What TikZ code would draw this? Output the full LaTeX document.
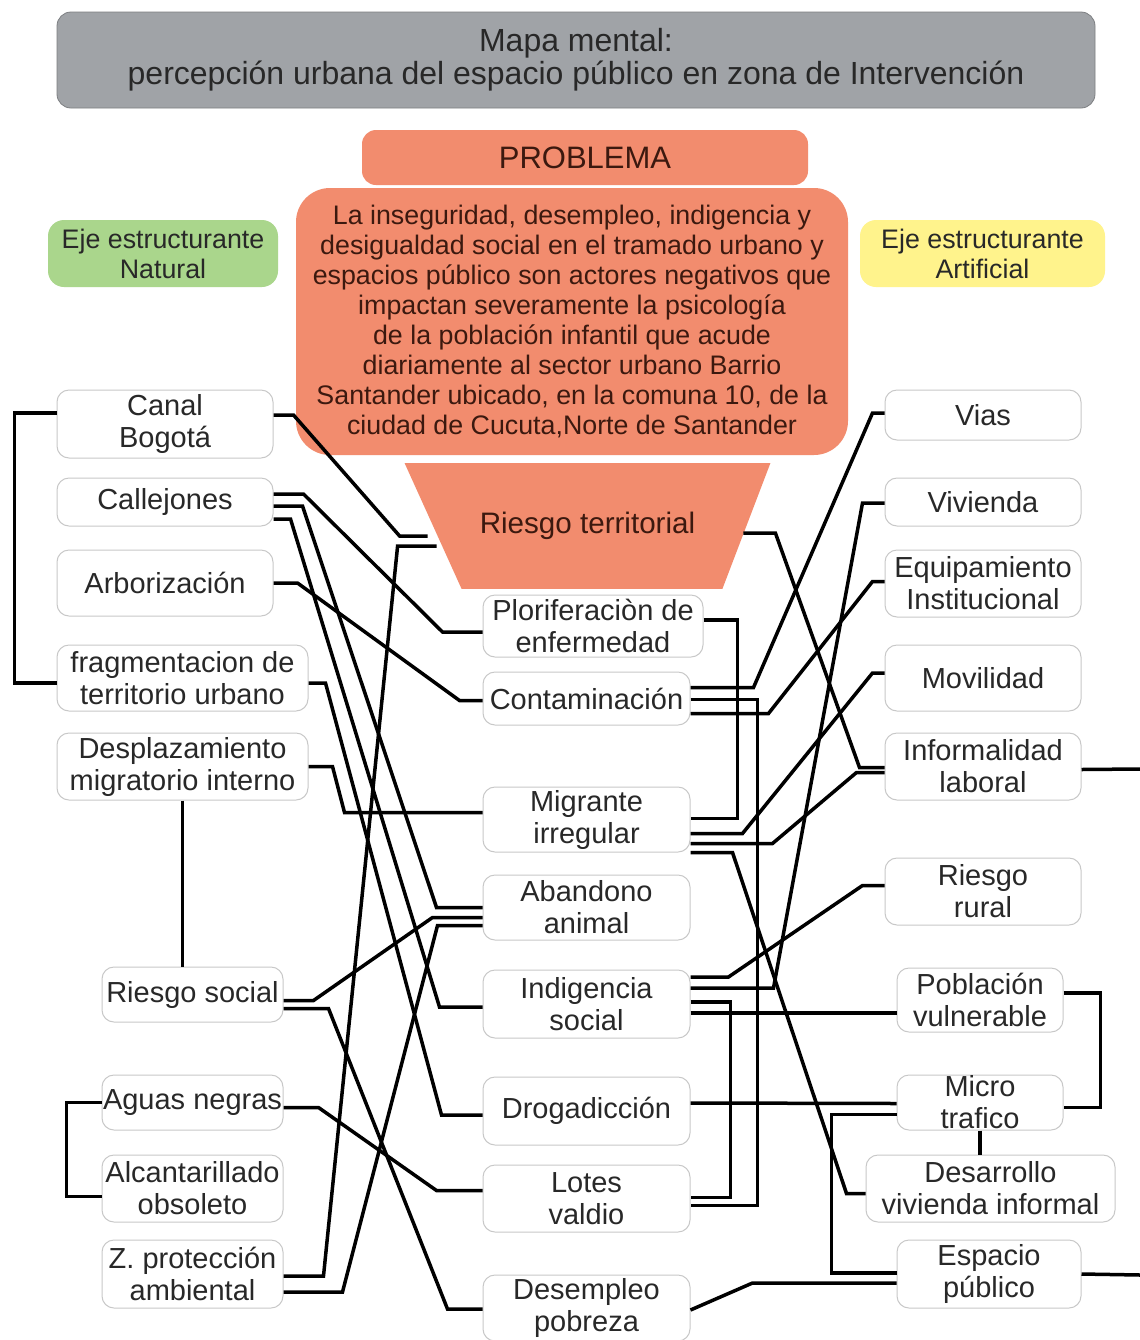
\documentclass[tikz,border=0pt]{standalone}
\usepackage{fontspec}
\setmainfont{Liberation Sans}
\usetikzlibrary{calc,backgrounds}
\definecolor{salmon}{RGB}{242,140,110}
\definecolor{titlegray}{RGB}{160,163,167}
\definecolor{titleline}{RGB}{125,127,130}
\definecolor{natgreen}{RGB}{170,214,140}
\definecolor{artyellow}{RGB}{255,243,140}
\definecolor{boxline}{RGB}{200,200,200}
\definecolor{ink}{RGB}{40,40,40}
\definecolor{probink}{RGB}{60,25,15}
\tikzstyle{item} = [draw=boxline, line width=0.5pt, rounded corners=6pt, fill=white, text=ink,
    align=center, inner sep=0pt, font=\fontsize{14.5}{16}\selectfont]
\tikzstyle{link} = [line width=1.75pt, black]

\begin{document}
\begin{tikzpicture}[x=0.5pt,y=-0.5pt]

\tikzstyle{eje} = [rounded corners=8pt, text=ink, align=center, minimum height=33.5pt, font=\fontsize{13.4}{15}\selectfont]

\useasboundingbox (0,0) rectangle (1140,1340);

\node[draw=titleline, fill=titlegray, rounded corners=7pt, minimum width=519pt, minimum height=48pt,
    align=center, text=ink, font=\fontsize{16}{16.5}\selectfont] (title) at (576,60)
    {Mapa mental:\\percepción urbana del espacio público en zona de Intervención};

\node[fill=salmon, rounded corners=7pt, minimum width=223pt, minimum height=27.5pt, text=probink,
    font=\fontsize{15.5}{17}\selectfont] (problema) at (585,157.5) {PROBLEMA};
\node[fill=salmon, rounded corners=17pt, minimum width=276pt, minimum height=133.5pt, align=center,
    text=probink, font=\fontsize{13.4}{15}\selectfont] (texto) at (572,321.5)
    {La inseguridad, desempleo, indigencia y\\desigualdad social en el tramado urbano y\\espacios público son actores negativos que\\impactan severamente la psicología\\de la población infantil que acude\\diariamente al sector urbano Barrio\\Santander ubicado, en la comuna 10, de la\\ciudad de Cucuta,Norte de Santander};

\node[eje, fill=natgreen, minimum width=115pt] (natural) at (163,253.5) {Eje estructurante\\Natural};
\node[eje, fill=artyellow, minimum width=122.5pt] (artificial) at (982.5,253.5) {Eje estructurante\\Artificial};

\node[minimum width=182.5pt, minimum height=62.5pt, inner sep=0pt, text=probink,
    font=\fontsize{14.8}{16}\selectfont] (rterr) at (587.5,526) {Riesgo territorial};
\begin{pgfonlayer}{background}
\fill[white] (0,0) rectangle (1140,1340);
\fill[salmon] (rterr.north west) -- (rterr.north east) -- ($(rterr.south east)+(-48,0)$)
    -- ($(rterr.south west)+(57,0)$) -- cycle;
\end{pgfonlayer}

% eje natural
\node[item, minimum width=108pt, minimum height=34pt] (canal) at (165,424) {Canal\\Bogotá};
\node[item, minimum width=108pt, minimum height=24pt] (callej) at (165,502) {Callejones};
\node[item, minimum width=108pt, minimum height=33pt] (arbor) at (165,583) {Arborización};
\node[item, minimum width=125.5pt, minimum height=33pt] (fragm) at (182.5,678) {fragmentacion de\\territorio urbano};
\node[item, minimum width=125.5pt, minimum height=33.5pt] (despl) at (182.5,766.5) {Desplazamiento\\migratorio interno};
\node[item, minimum width=90.5pt, minimum height=27.5pt] (rsocial) at (192.5,994.5) {Riesgo social};
\node[item, minimum width=90.5pt, minimum height=27.5pt] (aguas) at (192.5,1102.5) {Aguas negras};
\node[item, minimum width=90.5pt, minimum height=33.5pt] (alcant) at (192.5,1188.5) {Alcantarillado\\obsoleto};
\node[item, minimum width=90.5pt, minimum height=34pt] (zprot) at (192.5,1274) {Z. protección\\ambiental};

% centro
\node[item, minimum width=110pt, minimum height=31pt] (plorif) at (593,626) {Ploriferaciòn de\\enfermedad};
\node[item, minimum width=103.5pt, minimum height=26.5pt] (contam) at (586.5,698.5) {Contaminación};
\node[item, minimum width=103.5pt, minimum height=32.5pt] (migr) at (586.5,819.5) {Migrante\\irregular};
\node[item, minimum width=103.5pt, minimum height=32.5pt] (aband) at (586.5,907.5) {Abandono\\animal};
\node[item, minimum width=103.5pt, minimum height=34pt] (indig) at (586.5,1004) {Indigencia\\social};
\node[item, minimum width=103.5pt, minimum height=34pt] (droga) at (586.5,1111) {Drogadicción};
\node[item, minimum width=103.5pt, minimum height=33.5pt] (lotes) at (586.5,1198.5) {Lotes\\valdio};
\node[item, minimum width=103.5pt, minimum height=33pt] (desemp) at (586.5,1308) {Desempleo\\pobreza};

% eje artificial
\node[item, minimum width=98pt, minimum height=25pt] (vias) at (983,415) {Vias};
\node[item, minimum width=98pt, minimum height=24pt] (vivienda) at (983,502) {Vivienda};
\node[item, minimum width=98pt, minimum height=33.5pt] (equip) at (983,583.5) {Equipamiento\\Institucional};
\node[item, minimum width=98pt, minimum height=33pt] (movil) at (983,678) {Movilidad};
\node[item, minimum width=98pt, minimum height=33.5pt] (inform) at (983,766.5) {Informalidad\\laboral};
\node[item, minimum width=98pt, minimum height=33.5pt] (rrural) at (983,891.5) {Riesgo\\rural};
\node[item, minimum width=83pt, minimum height=32pt] (poblac) at (980,1000) {Población\\vulnerable};
\node[item, minimum width=83pt, minimum height=27.5pt] (micro) at (980,1102.5) {Micro\\trafico};
\node[item, minimum width=124.5pt, minimum height=33.5pt] (desarr) at (990.5,1188.5) {Desarrollo\\vivienda informal};
\node[item, minimum width=92pt, minimum height=34pt] (espacio) at (989,1274) {Espacio\\público};

\coordinate (rimA) at (1140,769);
\coordinate (rimB) at (1140,1275);

% izquierda
\draw[link] ($(canal.west)+(0,-11)$) -- ++(-42,0) |- ($(fragm.west)+(0,5)$);
\draw[link] (despl.south) -- (despl.south |- rsocial.north);
\draw[link] (aguas.west) -- ++(-35,0) |- ($(alcant.west)+(0,8)$);

\draw[link] ($(canal.east)+(0,-9)$) -- ++(20,0) -- ($(rterr.west)+(-5,10)$) -- ($(rterr.west)+(23,10)$);
\draw[link] ($(zprot.east)+(0,2)$) -- ++(40,0) -- ($(rterr.west)+(-7,20)$) -- ($(rterr.west)+(32,20)$);
\draw[link] ($(zprot.east)+(0,18)$) -- ++(59,0) -- ($(aband.west)+(-45,18)$) -- ($(aband.west)+(0,18)$);
\draw[link] ($(callej.east)+(0,-8)$) -- ++(30,0) -- ($(plorif.west)+(-40,6)$) -- ($(plorif.west)+(0,6)$);
\draw[link] ($(callej.east)+(0,4)$) -- ++(29,0) -- ($(aband.west)+(-46,0)$) -- (aband.west);
\draw[link] ($(callej.east)+(0,17)$) -- ++(17,0) -- ($(indig.west)+(-43,3)$) -- ($(indig.west)+(0,3)$);
\draw[link] (arbor.east) -- ++(24,0) -- ($(contam.west)+(-23,2)$) -- ($(contam.west)+(0,2)$);
\draw[link] ($(fragm.east)+(0,5)$) -- ++(17,0) -- ($(droga.west)+(-41,4)$) -- ($(droga.west)+(0,4)$);
\draw[link] (despl.east) -- ++(24,0) -- ($(migr.west)+(-138,-7)$) -- ($(migr.west)+(0,-7)$);
\draw[link] ($(rsocial.east)+(0,6)$) -- ++(30,0) -- ($(aband.west)+(-50,10)$) -- ($(aband.west)+(0,10)$);
\draw[link] ($(rsocial.east)+(0,14)$) -- ++(45,0) -- ($(desemp.west)+(-35,1)$) -- ($(desemp.west)+(0,1)$);
\draw[link] ($(aguas.east)+(0,5)$) -- ++(35,0) -- ($(lotes.west)+(-46,-8)$) -- ($(lotes.west)+(0,-8)$);

% derecha
\draw[link] ($(plorif.east)+(0,-6)$) -- ++(34,0) |- ($(migr.east)+(0,-1)$);
\draw[link] ($(contam.east)+(0,-11)$) -- ++(63,0) -- ($(vias.west)+(-12,-2)$) -- ($(vias.west)+(0,-2)$);
\draw[link] ($(contam.east)+(0,1)$) -- ++(67,0) |- ($(lotes.east)+(0,7)$);
\draw[link] ($(contam.east)+(0,15)$) -- ++(78,0) -- ($(equip.west)+(-12,-2)$) -- ($(equip.west)+(0,-2)$);
\draw[link] ($(migr.east)+(0,14)$) -- ++(52,0) -- ($(movil.west)+(-12,-5)$) -- ($(movil.west)+(0,-5)$);
\draw[link] ($(migr.east)+(0,24)$) -- ++(82,0) -- ($(inform.west)+(-28,6)$) -- ($(inform.west)+(0,6)$);
\draw[link] ($(migr.east)+(0,33)$) -- ++(42,0) -- ($(desarr.west)+(-19,5)$) -- ($(desarr.west)+(0,5)$);
\draw[link] ($(rterr.east)+(-27,7)$) -- ++(32,0) -- ($(inform.west)+(-25,1)$) -- ($(inform.west)+(0,1)$);
\draw[link] ($(indig.east)+(0,-27)$) -- ++(38,0) -- ($(rrural.west)+(-22,-6)$) -- ($(rrural.west)+(0,-6)$);
\draw[link] ($(indig.east)+(0,-16)$) -- ++(83,0) -- ($(vivienda.west)+(-22,1)$) -- ($(vivienda.west)+(0,1)$);
\draw[link] ($(indig.east)+(0,-2)$) -- ++(40,0) |- ($(lotes.east)+(0,-1)$);
\draw[link] ($(indig.east)+(0,9)$) -- ($(poblac.west)+(0,13)$);
\draw[link] ($(droga.east)+(0,-8)$) -- ($(micro.west)+(0,1)$);
\draw[link] ($(micro.west)+(0,12)$) -- ++(-65,0) |- ($(espacio.west)+(0,-1)$);
\draw[link] ($(desemp.east)+(0,2)$) -- ($(espacio.west)+(-144,9)$) -- ($(espacio.west)+(0,9)$);
\draw[link] ($(poblac.east)+(0,-7)$) -- ++(37,0) |- ($(micro.east)+(0,5)$);
\draw[link] (micro.south) -- (micro.south |- desarr.north);
\draw[link] ($(inform.east)+(0,3)$) -- (rimA);
\draw[link] (espacio.east) -- (rimB);

\end{tikzpicture}
\end{document}
